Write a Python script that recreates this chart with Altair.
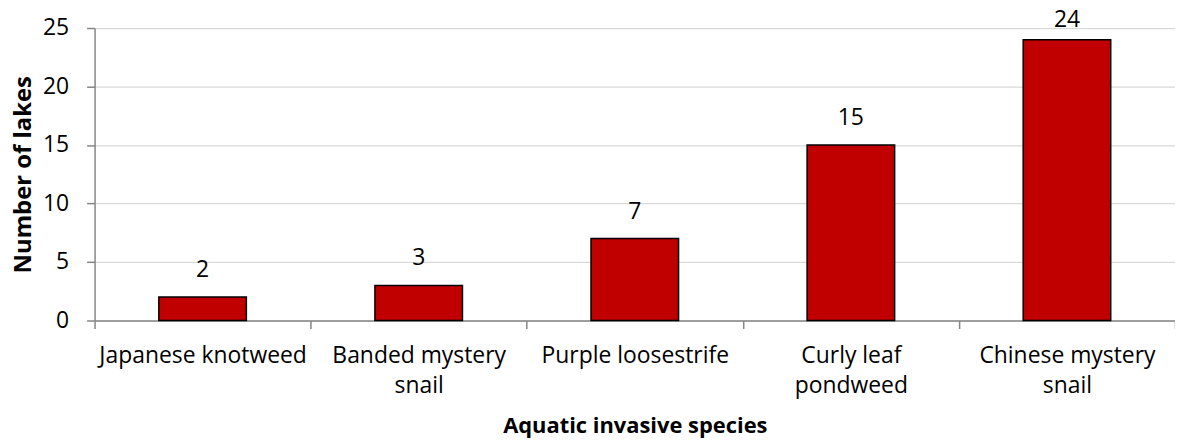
import altair as alt
import pandas as pd
import json

species = ["Japanese knotweed", "Banded mystery snail", "Purple loosestrife",
           "Curly leaf pondweed", "Chinese mystery snail"]
label_lines = [["Japanese knotweed"], ["Banded mystery", "snail"], ["Purple loosestrife"],
               ["Curly leaf", "pondweed"], ["Chinese mystery", "snail"]]
lakes = [2, 3, 7, 15, 24]
y_ticks = [0, 5, 10, 15, 20, 25]

df = pd.DataFrame({"species": species, "lakes": lakes})

mapping = {s: l for s, l in zip(species, label_lines)}
label_expr = json.dumps(mapping) + "[datum.label]"

FONT = "Open Sans"
FS = 23

x = alt.X("species:N", sort=species, title="Aquatic invasive species",
          scale=alt.Scale(paddingInner=0, paddingOuter=0),
          axis=alt.Axis(labelAngle=0, labelExpr=label_expr, labelLineHeight=30,
                        tickBand="extent", grid=False, tickSize=8, labelPadding=16,
                        labelLimit=0, titlePadding=19, labelBaseline="top", titleFontSize=22))
y = alt.Y("lakes:Q", title="Number of lakes",
          scale=alt.Scale(domain=[0, 25], nice=False),
          axis=alt.Axis(values=y_ticks, tickSize=8, labelPadding=18, titlePadding=7,
                        grid=True, gridColor="#d9d9d9", gridWidth=1.25, titleFontSize=24))

bars = alt.Chart(df).mark_bar(size=88, color="#C00000", stroke="black", strokeWidth=1.5).encode(x=x, y=y)
text = alt.Chart(df).transform_calculate(
    label_y="min(datum.lakes + 2.3, 25.68)"
).mark_text(font=FONT, fontSize=FS, color="black", clip=False).encode(
    x=alt.X("species:N", sort=species), y="label_y:Q", text="lakes:Q")

chart = (bars + text).properties(
    width=1086, height=294,
    autosize=alt.AutoSizeParams(type="none"),
    padding={"left": 87, "top": 19, "right": 0, "bottom": 122}
).configure_view(stroke=None).configure_axis(
    labelFont=FONT, labelFontSize=FS, labelColor="black",
    titleFont=FONT, titleFontWeight="bold", titleColor="black",
    domainColor="#868686", tickColor="#868686", domainWidth=1.5, tickWidth=1.5
)

chart.save("out.html", embed_options={"renderer": "svg", "actions": False})
